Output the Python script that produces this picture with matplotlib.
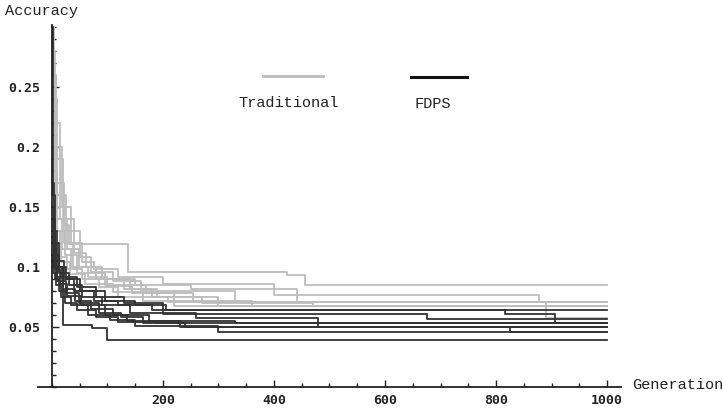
import matplotlib
matplotlib.use("Agg")
import matplotlib.pyplot as plt
from matplotlib.lines import Line2D
from matplotlib.ticker import MultipleLocator

# best accuracy so far, as (generation, value) step points, one list per run
traditional_runs = [
    [(0, 0.30), (3, 0.26), (8, 0.22), (15, 0.17), (22, 0.135), (30, 0.119), (137, 0.096), (423, 0.093), (456, 0.085)],
    [(0, 0.28), (5, 0.20), (18, 0.15), (35, 0.12), (55, 0.104), (75, 0.098), (120, 0.092), (200, 0.086), (400, 0.077), (877, 0.0706)],
    [(0, 0.26), (6, 0.19), (20, 0.14), (40, 0.112), (62, 0.100), (90, 0.090), (150, 0.085), (250, 0.082), (442, 0.0706)],
    [(0, 0.24), (10, 0.16), (25, 0.13), (50, 0.108), (70, 0.096), (110, 0.088), (160, 0.080), (330, 0.0706), (890, 0.0578)],
    [(0, 0.22), (6, 0.17), (14, 0.14), (28, 0.115), (48, 0.100), (80, 0.090), (130, 0.082), (180, 0.075), (300, 0.0673)],
    [(0, 0.20), (8, 0.15), (22, 0.12), (38, 0.100), (65, 0.092), (100, 0.084), (145, 0.078), (220, 0.0673)],
    [(0, 0.19), (7, 0.14), (18, 0.115), (35, 0.100), (80, 0.090), (140, 0.082), (190, 0.075), (270, 0.070), (470, 0.0673)],
    [(0, 0.18), (10, 0.13), (24, 0.110), (45, 0.095), (95, 0.085), (170, 0.078), (255, 0.0706)],
    [(0, 0.17), (5, 0.13), (15, 0.108), (28, 0.098), (55, 0.090), (85, 0.083), (120, 0.075), (210, 0.0706)],
    [(0, 0.16), (6, 0.12), (16, 0.104), (32, 0.094), (60, 0.086), (110, 0.079), (165, 0.072), (360, 0.0673)],
]
fdps_runs = [
    [(0, 0.30), (2, 0.16), (6, 0.12), (12, 0.100), (25, 0.090), (50, 0.080), (95, 0.072), (150, 0.068), (205, 0.064)],
    [(0, 0.17), (4, 0.13), (10, 0.105), (22, 0.092), (45, 0.083), (80, 0.075), (130, 0.070), (200, 0.0606), (676, 0.057)],
    [(0, 0.15), (3, 0.12), (8, 0.100), (18, 0.090), (40, 0.080), (75, 0.072), (120, 0.068), (180, 0.064), (816, 0.0606), (906, 0.0533)],
    [(0, 0.14), (5, 0.11), (12, 0.095), (30, 0.085), (55, 0.075), (90, 0.068), (140, 0.062), (260, 0.0573), (480, 0.050)],
    [(0, 0.13), (3, 0.105), (9, 0.092), (20, 0.082), (42, 0.072), (70, 0.065), (110, 0.060), (175, 0.055), (330, 0.0533)],
    [(0, 0.12), (4, 0.100), (10, 0.088), (25, 0.078), (48, 0.070), (85, 0.062), (125, 0.058), (165, 0.053), (240, 0.050), (825, 0.046)],
    [(0, 0.11), (2, 0.095), (7, 0.085), (16, 0.075), (35, 0.068), (65, 0.060), (105, 0.056), (150, 0.051), (300, 0.046)],
    [(0, 0.10), (20, 0.052), (72, 0.049), (100, 0.039)],
    [(0, 0.125), (6, 0.098), (14, 0.086), (28, 0.076), (52, 0.068), (95, 0.060), (135, 0.055), (230, 0.050)],
    [(0, 0.105), (5, 0.090), (12, 0.080), (24, 0.070), (45, 0.064), (80, 0.058), (120, 0.054), (185, 0.0533)],
]
last_generation = 1000
x_ticks = [200, 400, 600, 800, 1000]
y_ticks = [0.05, 0.1, 0.15, 0.2, 0.25]
y_tick_labels = ["0.05", "0.1", "0.15", "0.2", "0.25"]

gray = "#bdbdbd"
dark = "#333333"
label_font = "Liberation Mono"

fig = plt.figure(figsize=(7.22, 4.15), dpi=100)
ax = fig.add_axes([0.0526, 0.0675, 0.8075, 0.872])


def draw_run(points, color):
    gens = [p[0] for p in points] + [last_generation]
    vals = [p[1] for p in points] + [points[-1][1]]
    ax.plot(gens, vals, drawstyle="steps-post", color=color, lw=1.3)


for run in traditional_runs:
    draw_run(run, gray)
for run in fdps_runs:
    draw_run(run, dark)

ax.set_xlim(-25, 1025)
ax.set_ylim(0, 0.3017)

for side in ("top", "right"):
    ax.spines[side].set_visible(False)
ax.spines["left"].set_position(("data", 0))
ax.spines["bottom"].set_position(("data", 0))
for side in ("left", "bottom"):
    ax.spines[side].set_color("#222222")
    ax.spines[side].set_linewidth(1.3)

ax.set_xticks(x_ticks)
ax.set_xticklabels([str(t) for t in x_ticks])
ax.xaxis.set_minor_locator(MultipleLocator(50))
ax.set_yticks(y_ticks)
ax.set_yticklabels(y_tick_labels)
ax.yaxis.set_minor_locator(MultipleLocator(0.01))
ax.tick_params(which="both", direction="in", color="#222222", width=1.0)
ax.tick_params(which="major", length=5, labelsize=9.5)
ax.tick_params(which="minor", length=3)
ax.tick_params(axis="x", pad=5)
ax.tick_params(axis="y", pad=8)
for lab in ax.get_xticklabels() + ax.get_yticklabels():
    lab.set_family("DejaVu Sans Mono")
    lab.set_fontweight("bold")
    lab.set_color("#222222")

fig.text(5 / 722, 1 - 11 / 415, "Accuracy", fontsize=11, family=label_font, va="center", ha="left", color="#222222")
fig.text(632 / 722, 1 - 385 / 415, "Generation", fontsize=11, family=label_font, va="center", ha="left", color="#222222")

# legend drawn like the original, free on the plot
fig.add_artist(Line2D([263 / 722, 323 / 722], [1 - 76 / 415] * 2, transform=fig.transFigure, color=gray, lw=2))
fig.add_artist(Line2D([411 / 722, 467 / 722], [1 - 77 / 415] * 2, transform=fig.transFigure, color="#111111", lw=2.2))
fig.text(289 / 722, 1 - 103 / 415, "Traditional", fontsize=11, family=label_font, ha="center", va="center", color="#222222")
fig.text(433 / 722, 1 - 104 / 415, "FDPS", fontsize=11, family=label_font, ha="center", va="center", color="#222222")

fig.savefig("out.png", dpi=100)
